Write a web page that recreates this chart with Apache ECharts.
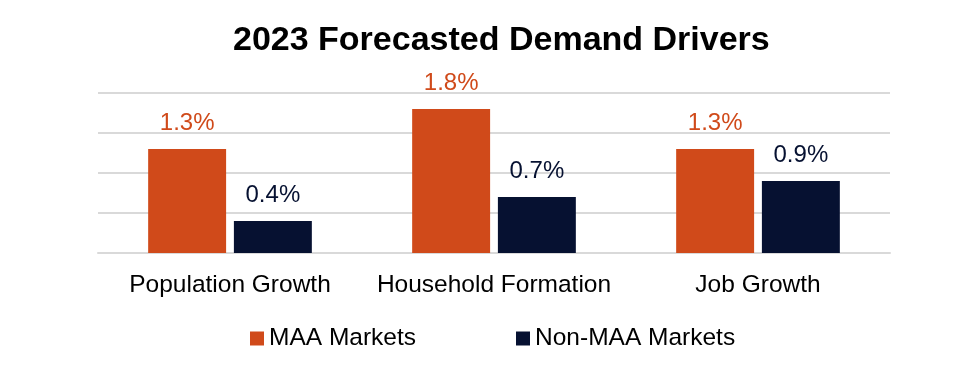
<!DOCTYPE html>
<html><head><meta charset="utf-8">
<script src="https://cdn.jsdelivr.net/npm/echarts@6/dist/echarts.min.js"></script>
<style>html,body{margin:0;padding:0;background:#fff}#c{width:953px;height:378px}</style>
</head><body><div id="c"></div>
<script>
const categories = ['Population Growth', 'Household Formation', 'Job Growth'];
const maaValues = [1.3, 1.8, 1.3];
const nonMaaValues = [0.4, 0.7, 0.9];
const seriesNames = ['MAA Markets', 'Non-MAA Markets'];
const titleText = '2023 Forecasted Demand Drivers';

const FONT = '"Liberation Sans", Arial, sans-serif';
const ORANGE = '#D04A1A';
const NAVY = '#061131';
const chart = echarts.init(document.getElementById('c'));
chart.setOption({
  animation: false,
  title: { text: titleText, left: 228, top: 19,
    textStyle: { fontFamily: FONT, fontSize: 34, fontWeight: 'bold', color: '#000' } },
  legend: { bottom: 22, left: 245, itemWidth: 14, itemHeight: 14, itemGap: 100,
    icon: 'rect', textStyle: { fontFamily: FONT, fontSize: 24.5, color: '#000' },
    data: seriesNames },
  grid: { left: 98, right: 63, top: 93, bottom: 125 },
  xAxis: { type: 'category', data: categories,
    axisLine: { lineStyle: { color: '#d9d9d9', width: 2 } }, axisTick: { show: false },
    axisLabel: { interval: 0, fontFamily: FONT, fontSize: 24.5, color: '#000', margin: 20 } },
  yAxis: { type: 'value', min: 0, max: 2, interval: 0.5,
    axisLabel: { show: false }, axisLine: { show: false }, axisTick: { show: false },
    splitLine: { lineStyle: { color: '#d9d9d9', width: 2 } } },
  series: [
    { name: seriesNames[0], type: 'bar', data: maaValues, barGap: '10%', barCategoryGap: '38%',
      itemStyle: { color: ORANGE },
      label: { show: true, position: 'top', distance: 14, formatter: p => p.value.toFixed(1) + '%',
        fontFamily: FONT, fontSize: 24, color: ORANGE } },
    { name: seriesNames[1], type: 'bar', data: nonMaaValues,
      itemStyle: { color: NAVY },
      label: { show: true, position: 'top', distance: 14, formatter: p => p.value.toFixed(1) + '%',
        fontFamily: FONT, fontSize: 24, color: NAVY } }
  ]
});
</script></body></html>
